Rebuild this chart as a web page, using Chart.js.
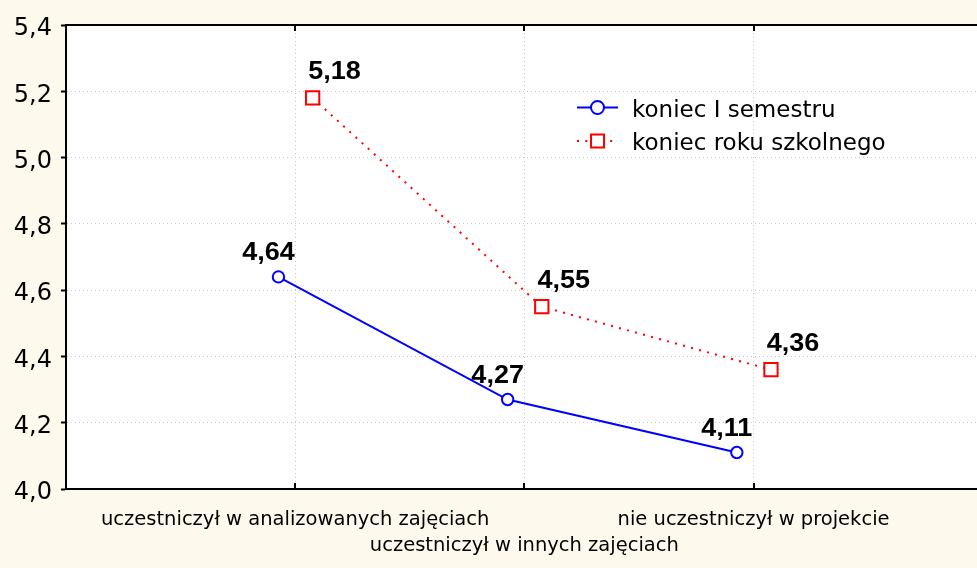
<!DOCTYPE html>
<html><head><meta charset="utf-8">
<script src="https://cdn.jsdelivr.net/npm/chart.js@4.4.0/dist/chart.umd.min.js"></script>
<style>html,body{margin:0;padding:0;background:#FDF9ED;} canvas{display:block;}</style>
</head><body>
<canvas id="c" width="977" height="568"></canvas>
<script>
// ---- data ----
const categories = ['uczestniczył w analizowanych zajęciach', 'uczestniczył w innych zajęciach', 'nie uczestniczył w projekcie'];
const categoryRow = [0, 1, 0];           // which text row each category label sits on
const seriesNames = ['koniec I semestru', 'koniec roku szkolnego'];
const semesterValues = [4.64, 4.27, 4.11];
const yearEndValues = [5.18, 4.55, 4.36];
const yMin = 4.0, yMax = 5.4, yStep = 0.2;

// ---- helpers ----
const fmt = (v, d) => v.toFixed(d).replace('.', ',');
const shift = [-0.073, 0.076];
const toPoints = (vals, off) => vals.map((v, i) => ({ x: i + 1 + off, y: v }));
const labelOffsets = [{ dx: -10, dy: -16.5 }, { dx: 22, dy: -18.7 }];
const BG = '#FDF9ED';

const bgPlugin = {
  id: 'bg',
  beforeDraw(chart) {
    const { ctx, chartArea: a } = chart;
    ctx.save();
    ctx.fillStyle = BG; ctx.fillRect(0, 0, chart.width, chart.height);
    ctx.fillStyle = '#ffffff'; ctx.fillRect(a.left, a.top, a.right - a.left, a.bottom - a.top);
    ctx.restore();
  }
};

const framePlugin = {
  id: 'frame',
  afterDraw(chart) {
    const { ctx, chartArea: a } = chart;
    const xs = chart.scales.x;
    ctx.save();
    ctx.strokeStyle = '#000'; ctx.lineWidth = 2;
    ctx.beginPath(); ctx.moveTo(a.left - 1, a.top); ctx.lineTo(a.right, a.top); ctx.stroke();
    ctx.lineWidth = 2;
    xs.ticks.forEach(t => {
      const px = Math.round(xs.getPixelForValue(t.value));
      ctx.beginPath(); ctx.moveTo(px, a.bottom); ctx.lineTo(px, a.bottom - 6); ctx.stroke();
      ctx.beginPath(); ctx.moveTo(px, a.top); ctx.lineTo(px, a.top + 6); ctx.stroke();
    });
    ctx.restore();
  }
};

const valueLabelPlugin = {
  id: 'valueLabels',
  afterDatasetsDraw(chart) {
    const ctx = chart.ctx;
    chart.data.datasets.forEach((ds, di) => {
      const meta = chart.getDatasetMeta(di);
      const off = labelOffsets[di];
      meta.data.forEach((el, i) => {
        ctx.save();
        ctx.font = 'bold 25px "Liberation Sans", Arial, sans-serif';
        ctx.fillStyle = '#000';
        ctx.textAlign = 'center';
        ctx.textBaseline = 'alphabetic';
        ctx.translate(el.x + off.dx, el.y + off.dy);
        ctx.scale(1.08, 1);
        ctx.fillText(fmt(ds.data[i].y, 2), 0, 0);
        ctx.restore();
      });
    });
  }
};

const legendPlugin = {
  id: 'insideLegend',
  afterDraw(chart) {
    const ctx = chart.ctx;
    const rows = [{ y: 107.5, base: 116.7, x1: 618 }, { y: 141, base: 150, x1: 613 }];
    chart.data.datasets.forEach((ds, i) => {
      const r = rows[i];
      ctx.save();
      ctx.strokeStyle = ds.borderColor;
      ctx.lineWidth = 2;
      ctx.setLineDash(ds.borderDash || []);
      ctx.beginPath(); ctx.moveTo(577, r.y); ctx.lineTo(r.x1, r.y); ctx.stroke();
      ctx.setLineDash([]);
      ctx.fillStyle = '#fff';
      ctx.beginPath();
      if (ds.pointStyle === 'rect') {
        ctx.rect(597.5 - 6.5, r.y - 6.5, 13, 13);
      } else {
        ctx.arc(597.5, r.y, 6.5, 0, Math.PI * 2);
      }
      ctx.fill(); ctx.stroke();
      ctx.fillStyle = '#000';
      ctx.font = '23px "DejaVu Sans", sans-serif';
      ctx.textAlign = 'left'; ctx.textBaseline = 'alphabetic';
      ctx.fillText(ds.label, 632, r.base);
      ctx.restore();
    });
  }
};

new Chart(document.getElementById('c'), {
  type: 'line',
  data: {
    datasets: [
      {
        label: seriesNames[0],
        data: toPoints(semesterValues, shift[0]),
        borderColor: '#0000ff', borderWidth: 2, tension: 0,
        pointStyle: 'circle', pointRadius: 5.7, pointBorderWidth: 2,
        pointBackgroundColor: '#ffffff', pointBorderColor: '#0000ff'
      },
      {
        label: seriesNames[1],
        data: toPoints(yearEndValues, shift[1]),
        borderColor: '#ff0000', borderWidth: 2, borderDash: [2, 6.3], tension: 0,
        pointStyle: 'rect', pointRadius: 9.4, pointBorderWidth: 2,
        pointBackgroundColor: '#ffffff', pointBorderColor: '#ff0000'
      }
    ]
  },
  options: {
    responsive: false, animation: false, devicePixelRatio: 1,
    layout: { autoPadding: false, padding: { top: 25, left: 0, right: 0, bottom: 0 } },
    plugins: { legend: { display: false }, tooltip: { enabled: false } },
    scales: {
      x: {
        type: 'linear', min: 0, max: 3.975,
        afterBuildTicks(s) { s.ticks = categories.map((c, i) => ({ value: i + 1 })); },
        afterFit(s) { s.height = 79; s.paddingLeft = 0; s.paddingRight = 0; },
        ticks: {
          autoSkip: false, maxRotation: 0, minRotation: 0, padding: 17.5, color: '#000',
          font: { family: '"DejaVu Sans", sans-serif', size: 19.5, lineHeight: 26 / 19.5 },
          callback: (v) => { const i = Math.round(v) - 1; const l = categories[i]; return categoryRow[i] ? ['', l] : l; }
        },
        grid: { color: '#c8c8c8', lineWidth: 1, drawTicks: false },
        border: { display: true, color: '#000', width: 2, dash: [1, 3] }
      },
      y: {
        type: 'linear', min: yMin, max: yMax,
        afterFit(s) { s.width = 66; s.paddingTop = 0; s.paddingBottom = 0; },
        ticks: {
          stepSize: yStep, color: '#000', padding: 9, labelOffset: 4,
          font: { family: '"DejaVu Sans", sans-serif', size: 24 },
          callback: (v) => fmt(v, 1)
        },
        grid: { color: '#c8c8c8', lineWidth: 1, tickColor: '#000', tickLength: 5, tickWidth: 2, drawTicks: true },
        border: { display: true, color: '#000', width: 2, dash: [1, 3] }
      }
    }
  },
  plugins: [bgPlugin, valueLabelPlugin, legendPlugin, framePlugin]
});
</script>
</body></html>
